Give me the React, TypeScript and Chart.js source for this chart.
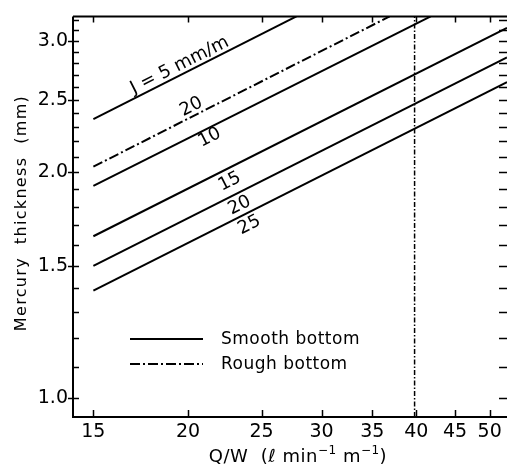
import React, { useEffect, useRef } from 'react';
import { Chart, registerables } from 'chart.js';

Chart.register(...registerables);

// ---- axis ranges ----
const Q_MIN = 14.1;
const Q_MAX = 52.7;
const H_MIN = 0.942;
const H_MAX = 3.232;

// ---- tick values ----
const xTickValues = [15, 20, 25, 30, 35, 40, 45, 50];
const yLabelValues = [1.0, 1.5, 2.0, 2.5, 3.0];
const yMinorValues = [1.0, 1.1, 1.2, 1.3, 1.4, 1.5, 1.6, 1.7, 1.8, 1.9, 2.0, 2.1, 2.2, 2.3, 2.4, 2.5, 2.6, 2.7, 2.8, 2.9, 3.0, 3.1, 3.2];

// ---- series (Q/W in L/min/m, mercury thickness in mm) ----
const j5SmoothQ = [15, 27.8];
const j5SmoothH = [2.356, 3.232];
const j20RoughQ = [15, 36.9];
const j20RoughH = [2.035, 3.232];
const j10SmoothQ = [15, 41.8];
const j10SmoothH = [1.918, 3.232];
const j15SmoothQ = [15, 52.7];
const j15SmoothH = [1.643, 3.12];
const j20SmoothQ = [15, 52.7];
const j20SmoothH = [1.5, 2.849];
const j25SmoothQ = [15, 52.7];
const j25SmoothH = [1.39, 2.641];
const limitQ = [39.8, 39.8];
const limitH = [0.942, 3.232];

// ---- line labels: text, dataset index, anchor (Q, H) ----
const labelTexts = ['J = 5 mm/m', '20', '10', '15', '20', '25'];
const labelSeries = [0, 1, 2, 3, 4, 5];
const labelQ = [19.5, 20.2, 21.35, 22.7, 23.4, 24.1];
const labelH = [2.78, 2.446, 2.226, 1.943, 1.806, 1.70];

const legendTexts = ['Smooth bottom', 'Rough bottom'];

const FONT = 'DejaVu Sans';
const ROUGH_DASH = [10, 3, 2, 3];

const pts = (q: number[], h: number[]) => q.map((v, i) => ({ x: v, y: h[i] }));

const framePlugin = {
  id: 'frame',
  afterDatasetsDraw(chart: any) {
    const { ctx, chartArea: a, scales } = chart;
    const xs = scales.x;
    const ys = scales.y;
    ctx.save();
    ctx.strokeStyle = '#000';
    ctx.fillStyle = '#000';
    // frame
    ctx.lineWidth = 2;
    ctx.setLineDash([]);
    ctx.beginPath();
    ctx.moveTo(a.left, a.top);
    ctx.lineTo(a.left, a.bottom);
    ctx.lineTo(a.right, a.bottom);
    ctx.moveTo(a.left, a.top);
    ctx.lineTo(a.right, a.top);
    ctx.stroke();

    // ticks
    ctx.lineWidth = 1.5;
    ctx.beginPath();
    yMinorValues.forEach((v) => {
      const py = Math.round(ys.getPixelForValue(v)) + 0.5;
      ctx.moveTo(a.left, py);
      ctx.lineTo(a.left + 6, py);
      ctx.moveTo(a.right, py);
      ctx.lineTo(a.right - 8, py);
    });
    yLabelValues.forEach((v) => {
      const py = Math.round(ys.getPixelForValue(v)) + 0.5;
      ctx.moveTo(a.left - 5, py);
      ctx.lineTo(a.left, py);
    });
    xTickValues.forEach((v) => {
      const px = Math.round(xs.getPixelForValue(v)) + 0.5;
      ctx.moveTo(px, a.bottom);
      ctx.lineTo(px, a.bottom - 7);
      ctx.moveTo(px, a.top);
      ctx.lineTo(px, a.top + 6);
    });
    ctx.stroke();

    // labels along lines
    ctx.font = `18px "${FONT}"`;
    ctx.textAlign = 'center';
    ctx.textBaseline = 'middle';
    labelTexts.forEach((t, i) => {
      const ds = chart.data.datasets[labelSeries[i]].data;
      const x1 = xs.getPixelForValue(ds[0].x);
      const y1 = ys.getPixelForValue(ds[0].y);
      const x2 = xs.getPixelForValue(ds[1].x);
      const y2 = ys.getPixelForValue(ds[1].y);
      const ang = Math.atan2(y2 - y1, x2 - x1);
      const px = xs.getPixelForValue(labelQ[i]);
      const py = ys.getPixelForValue(labelH[i]);
      ctx.save();
      ctx.translate(px, py);
      ctx.rotate(ang);
      ctx.fillText(t, 0, 0);
      ctx.restore();
    });

    // legend
    const legY = [339, 364];
    ctx.lineWidth = 2;
    legY.forEach((ly, i) => {
      ctx.setLineDash(i === 0 ? [] : ROUGH_DASH);
      ctx.beginPath();
      ctx.moveTo(130, ly);
      ctx.lineTo(203, ly);
      ctx.stroke();
    });
    ctx.setLineDash([]);
    ctx.font = `17px "${FONT}"`;
    ctx.textAlign = 'left';
    ctx.textBaseline = 'middle';
    ctx.letterSpacing = '0.5px';
    legendTexts.forEach((t, i) => ctx.fillText(t, 221, legY[i] + 1));

    // y title
    ctx.font = `16px "${FONT}"`;
    ctx.textBaseline = 'alphabetic';
    ctx.textAlign = 'center';
    const yTitle = 'Mercury  thickness  (mm)';
    ctx.letterSpacing = '0px';
    const natural = ctx.measureText(yTitle).width;
    const ls = (235 - natural) / (yTitle.length - 1);
    ctx.letterSpacing = `${ls.toFixed(2)}px`;
    ctx.save();
    ctx.translate(26, 213);
    ctx.rotate(-Math.PI / 2);
    ctx.fillText(yTitle, 0, 0);
    ctx.restore();

    // x title with superscripts
    ctx.letterSpacing = '0.5px';
    ctx.textAlign = 'left';
    const parts: [string, boolean][] = [
      ['Q/W  (ℓ min', false],
      ['−1', true],
      [' m', false],
      ['−1', true],
      [')', false],
    ];
    const fontFor = (sup: boolean) => (sup ? `12px "${FONT}"` : `18px "${FONT}"`);
    let total = 0;
    parts.forEach(([t, sup]) => {
      ctx.font = fontFor(sup);
      total += ctx.measureText(t).width;
    });
    let cx = 298 - total / 2;
    const base = 462;
    parts.forEach(([t, sup]) => {
      ctx.font = fontFor(sup);
      ctx.fillText(t, cx, sup ? base - 8 : base);
      cx += ctx.measureText(t).width;
    });
    ctx.letterSpacing = '0px';
    ctx.restore();
  },
};

export default function App() {
  const ref = useRef<HTMLCanvasElement | null>(null);
  useEffect(() => {
    if (!ref.current) return;
    const line = (q: number[], h: number[], dash: number[], width = 2) => ({
      data: pts(q, h),
      borderColor: '#000',
      backgroundColor: '#000',
      borderWidth: width,
      borderDash: dash,
      pointRadius: 0,
      fill: false,
      tension: 0,
      clip: 0,
    });
    const chart = new Chart(ref.current, {
      type: 'line',
      data: {
        datasets: [
          line(j5SmoothQ, j5SmoothH, []),
          line(j20RoughQ, j20RoughH, ROUGH_DASH),
          line(j10SmoothQ, j10SmoothH, []),
          line(j15SmoothQ, j15SmoothH, []),
          line(j20SmoothQ, j20SmoothH, []),
          line(j25SmoothQ, j25SmoothH, []),
          line(limitQ, limitH, [5, 2, 1.5, 2], 1.5),
        ] as any,
      },
      options: {
        animation: false,
        responsive: false,
        devicePixelRatio: 1,
        layout: { padding: { top: 10, right: 0, left: 0, bottom: 0 } },
        plugins: { legend: { display: false }, tooltip: { enabled: false } },
        scales: {
          x: {
            type: 'logarithmic',
            min: Q_MIN,
            max: Q_MAX,
            afterBuildTicks: (s: any) => {
              s.ticks = xTickValues.map((v) => ({ value: v }));
            },
            afterFit: (s: any) => {
              s.height = 56;
            },
            grid: { display: false, drawTicks: false },
            border: { display: false },
            ticks: {
              padding: 4,
              color: '#000',
              autoSkip: false,
              maxRotation: 0,
              font: { family: FONT, size: 19 },
              callback: (v: any) => String(v),
            },
          },
          y: {
            type: 'logarithmic',
            min: H_MIN,
            max: H_MAX,
            afterBuildTicks: (s: any) => {
              s.ticks = yLabelValues.map((v) => ({ value: v }));
            },
            afterFit: (s: any) => {
              s.width = 73;
            },
            grid: { display: false, drawTicks: false },
            border: { display: false },
            ticks: {
              padding: 5,
              color: '#000',
              autoSkip: false,
              font: { family: FONT, size: 19 },
              callback: (v: any) => Number(v).toFixed(1),
            },
          },
        } as any,
      },
      plugins: [framePlugin],
    });
    return () => chart.destroy();
  }, []);
  return (
    <div style={{ position: 'fixed', left: 0, top: 0, width: 507, height: 473, background: '#fff' }}>
      <canvas ref={ref} width={507} height={473} style={{ display: 'block', width: 507, height: 473 }} />
    </div>
  );
}
